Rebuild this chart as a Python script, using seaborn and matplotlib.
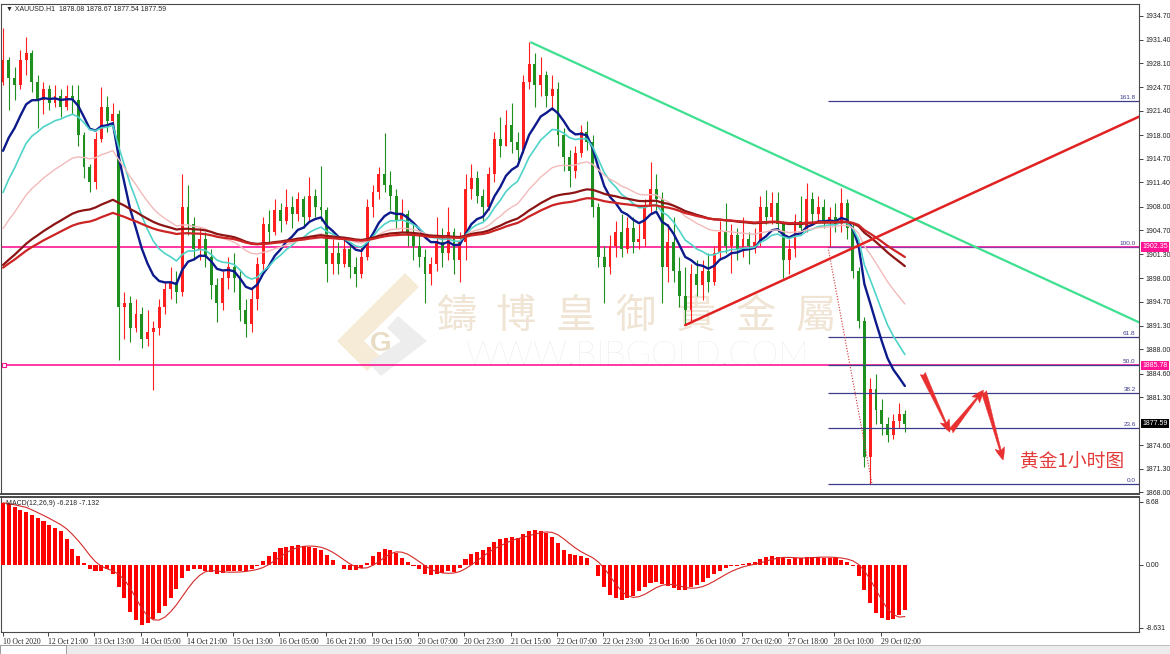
import numpy as np
import pandas as pd
import seaborn as sns
import matplotlib.pyplot as plt
from matplotlib.patches import Polygon, Rectangle
from matplotlib.transforms import blended_transform_factory


first_open = 1925.5
closes = [
    1928.5, 1926.0, 1925.0, 1928.5, 1929.5, 1925.5, 1923.0, 1924.5, 1922.5, 1923.5,
    1922.0, 1923.5, 1923.0, 1918.0, 1913.5, 1911.5, 1917.5, 1922.0, 1920.0, 1921.0,
    1894.0, 1894.5, 1891.0, 1893.0, 1889.5, 1890.5, 1891.0, 1894.0, 1896.5, 1897.5,
    1896.0, 1908.0, 1905.5, 1902.0, 1903.5, 1901.0, 1897.0, 1894.5, 1898.0, 1899.5,
    1898.0, 1893.5, 1891.5, 1895.0, 1900.0, 1905.5, 1904.5, 1907.5, 1906.0, 1908.0,
    1907.0, 1909.0, 1906.5, 1909.5, 1908.0, 1907.5, 1900.0, 1901.5, 1900.0, 1902.0,
    1899.5, 1898.5, 1901.0, 1908.0, 1910.0, 1912.5, 1911.0, 1909.5, 1906.0, 1907.0,
    1904.0, 1902.5, 1901.0, 1898.5, 1900.0, 1903.0, 1901.5, 1904.5, 1900.5, 1903.0,
    1910.5, 1912.0, 1909.5, 1908.0, 1912.5, 1917.5, 1916.5, 1919.5, 1917.0, 1916.0,
    1925.5, 1928.0, 1925.0, 1926.5, 1923.5, 1924.5, 1918.0, 1915.0, 1913.0, 1915.5,
    1918.5, 1917.0, 1908.0, 1901.0, 1899.5, 1902.5, 1904.5, 1902.0, 1905.0, 1903.0,
    1903.5, 1908.0, 1910.5, 1909.0, 1899.5, 1903.0, 1899.0, 1895.5, 1893.5, 1898.5,
    1897.0, 1899.0, 1897.5, 1901.5, 1904.5, 1902.5, 1904.0, 1902.0, 1903.5, 1902.5,
    1903.0, 1908.0, 1906.5, 1908.5, 1905.5, 1900.5, 1902.0, 1906.0, 1905.0, 1909.0,
    1907.0, 1908.0, 1906.0, 1906.5, 1905.5, 1908.5, 1905.0, 1899.0, 1892.0, 1873.0,
    1882.5, 1879.5, 1877.5, 1876.0, 1878.0, 1879.0, 1877.59,
]
highs = [
    1933.0, 1929.0, 1927.5, 1930.0, 1931.8, 1930.0, 1926.5, 1925.5, 1925.0, 1925.0,
    1924.5, 1925.0, 1925.0, 1925.0, 1918.5, 1914.0, 1918.5, 1924.8, 1923.5, 1922.5,
    1921.5, 1896.0, 1895.5, 1895.0, 1894.0, 1893.5, 1892.0, 1895.0, 1897.5, 1899.5,
    1899.0, 1912.5, 1911.0, 1906.5, 1905.0, 1904.5, 1902.0, 1898.0, 1899.0, 1901.0,
    1901.5, 1899.0, 1895.0, 1896.5, 1901.0, 1906.5, 1907.5, 1909.0, 1908.5, 1910.5,
    1909.5, 1910.0, 1909.5, 1912.2, 1910.5, 1913.7, 1908.0, 1903.5, 1903.0, 1903.5,
    1902.5, 1901.0, 1902.5, 1909.0, 1911.0, 1913.5, 1918.3, 1913.0, 1910.5, 1909.0,
    1907.5, 1905.5, 1904.0, 1902.0, 1901.0, 1906.5, 1905.0, 1908.0, 1905.0, 1904.5,
    1912.5, 1914.0, 1913.0, 1910.5, 1913.5, 1918.5, 1920.5, 1921.5, 1922.5, 1918.5,
    1926.5, 1931.0, 1929.5, 1929.0, 1927.0, 1926.5, 1925.5, 1919.0, 1916.0, 1916.5,
    1919.5, 1920.0, 1918.0, 1908.5, 1902.5, 1904.0, 1906.0, 1907.0, 1906.5, 1906.5,
    1905.5, 1909.0, 1914.3, 1912.5, 1910.0, 1905.5, 1906.5, 1901.0, 1899.5, 1900.0,
    1900.5, 1900.5, 1901.5, 1902.5, 1906.0, 1908.5, 1905.5, 1905.0, 1906.5, 1904.5,
    1905.0, 1909.5, 1910.3, 1910.0, 1910.0, 1906.0, 1903.5, 1907.0, 1909.5, 1911.3,
    1910.0, 1909.5, 1909.0, 1908.0, 1908.5, 1910.6, 1909.0, 1905.5, 1899.5, 1892.5,
    1884.0, 1884.5, 1881.0, 1878.5, 1879.0, 1880.5, 1879.5,
]
lows = [
    1925.0, 1921.5, 1923.0, 1924.5, 1926.5, 1924.0, 1919.0, 1921.0, 1921.5, 1922.0,
    1920.5, 1921.5, 1921.0, 1916.5, 1912.0, 1910.0, 1910.5, 1917.0, 1918.5, 1918.5,
    1886.5, 1889.5, 1889.0, 1890.5, 1888.2, 1888.5, 1882.3, 1890.0, 1893.0, 1895.0,
    1894.5, 1895.5, 1904.0, 1900.5, 1900.5, 1899.5, 1895.0, 1891.8, 1893.5, 1896.5,
    1896.0, 1892.0, 1889.7, 1890.5, 1893.5, 1899.0, 1903.0, 1904.0, 1904.5, 1905.5,
    1905.0, 1906.0, 1905.0, 1906.0, 1906.5, 1906.0, 1897.5, 1898.5, 1898.5, 1899.5,
    1898.0, 1896.7, 1898.0, 1900.5, 1906.5, 1909.0, 1910.0, 1907.5, 1905.0, 1904.5,
    1902.5, 1900.5, 1899.5, 1894.5, 1897.0, 1899.0, 1899.5, 1900.5, 1898.5, 1897.5,
    1900.5, 1909.0, 1908.5, 1906.0, 1907.5, 1911.5, 1915.0, 1916.5, 1915.5, 1914.5,
    1915.5, 1924.5, 1922.0, 1923.5, 1922.0, 1921.5, 1916.5, 1913.0, 1910.8, 1912.0,
    1915.0, 1916.0, 1906.5, 1899.5, 1894.5, 1898.5, 1901.0, 1901.0, 1901.5, 1901.5,
    1902.0, 1902.5, 1907.0, 1907.5, 1894.5, 1897.5, 1897.5, 1894.0, 1891.5, 1892.0,
    1895.5, 1894.9, 1896.0, 1897.0, 1900.5, 1901.5, 1898.7, 1900.5, 1901.0, 1900.0,
    1901.5, 1902.5, 1905.5, 1905.5, 1904.5, 1898.0, 1898.5, 1901.0, 1904.0, 1904.5,
    1905.5, 1906.0, 1905.0, 1902.35, 1904.5, 1904.5, 1903.5, 1898.0, 1891.0, 1871.5,
    1869.2, 1877.5, 1876.0, 1875.0, 1875.5, 1877.0, 1876.5,
]
macd_hist = [
    8.5, 8.3, 7.9, 7.5, 7.2, 6.8, 6.4, 6.0, 5.5, 5.0,
    4.6, 3.6, 2.2, 1.2, 0.2, -0.6, -0.9, -0.8, -0.6, -1.2,
    -3.0, -4.6, -6.5, -7.6, -8.2, -8.0, -7.4, -6.6, -5.6, -4.5,
    -3.3, -1.8, -0.9, -0.6, -0.6, -0.8, -1.0, -1.2, -1.1, -0.9,
    -0.8, -0.9, -0.8, -0.5, -0.1, 0.5, 1.2, 1.8, 2.3, 2.5,
    2.6, 2.7, 2.6, 2.5, 2.3, 2.0, 1.3, 0.6, 0.0, -0.5,
    -0.7, -0.7, -0.4, 0.3, 1.2, 1.8, 2.2, 2.1, 1.6, 1.0,
    0.4, -0.2, -0.6, -1.2, -1.4, -1.2, -1.1, -0.9, -1.0, -0.4,
    0.8, 1.5, 1.8, 2.0, 2.5, 3.2, 3.5, 3.7, 3.8, 3.7,
    4.2, 4.6, 4.8, 4.7, 4.3, 3.8, 3.0, 2.0, 1.5, 1.3,
    1.2, 0.9, 0.0, -1.5, -3.0, -4.1, -4.6, -4.8, -4.6, -4.2,
    -3.6, -3.0, -2.5, -2.3, -2.6, -2.9, -3.2, -3.4, -3.4, -3.1,
    -2.7, -2.3, -1.8, -1.3, -0.8, -0.4, -0.2, -0.1, 0.1, 0.2,
    0.4, 0.8, 1.1, 1.2, 1.1, 0.9, 0.8, 0.9, 1.0, 1.1,
    1.1, 1.1, 1.0, 1.0, 0.9, 0.7, 0.4, -0.2, -1.5, -3.5,
    -5.2, -6.6, -7.3, -7.6, -7.4, -6.9, -6.218,
]

# moving averages: span (in 2h bars) and the value they start at on the left edge
ma_spans = [10, 16, 34, 70, 90]
ma_seeds = [1913.0, 1907.5, 1903.5, 1899.0, 1898.8]
ma_colors = ["#0c1a8c", "#4fd3c9", "#f2baba", "#8c1414", "#cc2424"]
ma_widths = [1.7, 1.2, 1.0, 1.6, 1.6]

# 1878.00 sits under the last-price tag in the reference, so it is left out
price_ticks = [1934.70, 1931.40, 1928.10, 1924.70, 1921.40, 1918.00, 1914.70,
               1911.40, 1908.00, 1904.70, 1901.30, 1898.00, 1894.70, 1891.30,
               1888.00, 1884.60, 1881.30, 1874.60, 1871.30, 1868.00]
macd_ticks = [8.68, 0.0, -8.631]
macd_tick_labels = ["8.68", "0.00", "-8.631"]
time_labels = ["10 Oct 2020", "12 Oct 21:00", "13 Oct 13:00", "14 Oct 05:00",
               "14 Oct 21:00", "15 Oct 13:00", "16 Oct 05:00", "16 Oct 21:00",
               "19 Oct 15:00", "20 Oct 07:00", "20 Oct 23:00", "21 Oct 15:00",
               "22 Oct 07:00", "22 Oct 23:00", "23 Oct 16:00", "26 Oct 10:00",
               "27 Oct 02:00", "27 Oct 18:00", "28 Oct 10:00", "29 Oct 02:00"]
time_ticks = [0] + [7.8 + 8 * k for k in range(len(time_labels) - 1)]

level_lines = [1902.35, 1885.78]
last_price = 1877.59
fib_low, fib_high, fib_start = 1869.21, 1902.35, 142.7
fib_ratios = [0.0, 23.6, 38.2, 50.0, 61.8, 100.0, 161.8]
green_line_x, green_line_y = [91.35, 196.5], [1931.0, 1891.8]
red_line_x, red_line_y = [118.0, 196.5], [1891.4, 1920.6]
swing_x, swing_y = [142.7, 150.3], [1902.35, 1869.21]
forecast_x = [159.0, 163.8, 169.6, 173.0]
forecast_y = [1884.8, 1876.4, 1882.3, 1872.5]

X_MIN, X_MAX = -0.35, 196.5
UP, DOWN = "#ff1f1f", "#1f8f1f"
MAGENTA = "#ff1493"
FIB = "#3c3c8c"

# --- Figure ---
sns.set_theme(style="white")
plt.rcParams["font.family"] = ["Liberation Sans", "DejaVu Sans"]

W, H = 1170, 654
fig = plt.figure(figsize=(W / 100, H / 100), dpi=100, facecolor="white")
ax = fig.add_axes([1 / W, 1 - 494 / H, 1138 / W, 490 / H])
ax2 = fig.add_axes([1 / W, 1 - 632 / H, 1138 / W, 135 / H])


def px(x, y):
    return (x / W, 1 - y / H)


# watermark
wm_kw = dict(transform=fig.transFigure, zorder=1)
ax.add_artist(Polygon([px(405, 273), px(337, 341), px(367, 371), px(381, 357),
                       px(364, 341), px(419, 287)], closed=True,
                      fc="#f3e6cc", ec="none", alpha=0.8, **wm_kw))
ax.add_artist(Polygon([px(398, 316), px(427, 341), px(381, 376), px(368, 363),
                       px(401, 341), px(387, 328)], closed=True,
                      fc="#ececec", ec="none", alpha=0.9, **wm_kw))
ax.text(*px(381, 344), "G", fontsize=20, fontweight="bold", color="#e9dcc4",
        ha="center", va="center", **wm_kw)
for k, ch in enumerate("鑄博皇御貴金屬"):
    ax.text(*px(456 + 60 * k, 316), ch, fontsize=29, color="#f0e4d4",
            ha="center", va="center", family=["Noto Sans CJK TC"], **wm_kw)
ax.text(*px(638, 356), "WWW.BIBGOLD.COM", fontsize=24.5, color="#e2e2e2",
        ha="center", va="center", family=["Lato"], fontweight="light", **wm_kw)

# candles
opens = [first_open] + closes[:-1]
df = pd.DataFrame({"open": opens, "high": highs, "low": lows, "close": closes})
df["bar"] = np.arange(len(df))
colors = np.where(df["close"] >= df["open"], UP, DOWN)
ax.vlines(df["bar"], df["low"], df["high"], colors=colors, lw=0.8, zorder=3)
body = (df["close"] - df["open"]).abs().clip(lower=0.15)
ax.bar(df["bar"], body, bottom=df[["open", "close"]].min(axis=1), width=0.5,
       color=colors, linewidth=0, zorder=3)

# moving averages
for span, seed, color, lw in zip(ma_spans, ma_seeds, ma_colors, ma_widths):
    ma = pd.Series([seed] + closes).ewm(span=span, adjust=False).mean().iloc[1:]
    sns.lineplot(x=df["bar"], y=ma.to_numpy(), color=color, linewidth=lw, ax=ax, zorder=4)

# horizontal levels and tags
trans = blended_transform_factory(ax.transAxes, ax.transData)
tag_kw = dict(transform=trans, fontsize=5, va="center", ha="left", zorder=10, clip_on=False)
for lvl in level_lines:
    ax.axhline(lvl, color=MAGENTA, lw=1.2, zorder=2)
    ax.text(1.003, lvl, f"{lvl:.2f}", color="white",
            bbox=dict(boxstyle="square,pad=0.18", fc=MAGENTA, ec="none"), **tag_kw)
ax.plot([0.1], [level_lines[1]], marker="s", ms=3, mfc="white", mec=MAGENTA, mew=0.8, zorder=5)
ax.text(1.003, last_price, f"{last_price:.2f}", color="white",
        bbox=dict(boxstyle="square,pad=0.18", fc="black", ec="none"), **tag_kw)

# fibonacci retracement
for r in fib_ratios:
    lvl = fib_low + r / 100 * (fib_high - fib_low)
    col = "#8e3aa8" if r == 100.0 else FIB
    ax.hlines(lvl, fib_start, X_MAX, color=col, lw=0.9, zorder=3)
    ax.text(0.997, lvl + 0.15, f"{r:.1f}", transform=trans, ha="right", va="bottom",
            fontsize=4.6, color=FIB, zorder=6)
ax.plot(swing_x, swing_y, color="#d03030", lw=0.8, ls=(0, (1, 1.5)), zorder=5)

# trend lines
ax.plot(green_line_x, green_line_y, color="#3de08f", lw=1.6, zorder=5)
ax.plot(red_line_x, red_line_y, color="#e02222", lw=1.8, zorder=5)

# forecast arrows
for k in range(len(forecast_x) - 1):
    ax.annotate("", xy=(forecast_x[k + 1], forecast_y[k + 1]),
                xytext=(forecast_x[k], forecast_y[k]),
                arrowprops=dict(arrowstyle="fancy,head_length=0.9,head_width=0.7,tail_width=0.4",
                                fc="#e83030", ec="#e83030", lw=0.3, mutation_scale=10,
                                shrinkA=1, shrinkB=0), zorder=6)
ax.text(176, 1872.25, "黄金1小时图", fontsize=13.5, color="#e33a3a", va="center",
        ha="left", family=["Noto Sans CJK SC", "DejaVu Sans"], zorder=6)

ax.text(0.004, 0.988, "▼ XAUUSD.H1  1878.08 1878.67 1877.54 1877.59",
        transform=ax.transAxes, fontsize=5, va="center", ha="left",
        family=["Liberation Sans", "DejaVu Sans"], zorder=6)

# MACD panel
ax2.bar(df["bar"], macd_hist, width=0.7, color="#ff0000", linewidth=0, zorder=3)
signal = pd.Series(macd_hist).rolling(5, min_periods=1).mean()
sns.lineplot(x=df["bar"], y=signal.to_numpy(), color="#d42a2a", linewidth=0.8, ax=ax2, zorder=4)
ax2.text(0.004, 0.955, "MACD(12,26,9) -6.218 -7.132", transform=ax2.transAxes,
         fontsize=5, va="center", ha="left", zorder=6)

# axes styling
ax.set_xlim(X_MIN, X_MAX)
ax.set_ylim(1867.75, 1936.38)
ax2.set_xlim(X_MIN, X_MAX)
ax2.set_ylim(-9.2, 9.3)
for a in (ax, ax2):
    a.set_facecolor("white")
    a.yaxis.tick_right()
    a.set_xlabel("")
    a.set_ylabel("")
    for s in a.spines.values():
        s.set_color("#4a4a4a")
        s.set_linewidth(0.8)
    a.tick_params(axis="y", direction="out", length=3, width=0.6, pad=2,
                  labelsize=5, colors="#222222", right=True)
ax.spines["bottom"].set_linewidth(1.4)
ax2.spines["top"].set_linewidth(1.4)
ax.set_xticks([])
ax.set_yticks(price_ticks)
ax.set_yticklabels([f"{v:.2f}" for v in price_ticks])
ax2.set_yticks(macd_ticks)
ax2.set_yticklabels(macd_tick_labels)
ax2.set_xticks(time_ticks)
ax2.set_xticklabels(time_labels, ha="left", fontfamily="Liberation Serif")
ax2.tick_params(axis="x", direction="out", length=3, width=0.6, pad=1.5,
                labelsize=5.5, colors="#222222", bottom=True)

# bottom tab strip
fig.patches.append(Rectangle((0, 0), 1, 9 / H, transform=fig.transFigure,
                             fc="#ececec", ec="#b4b4b4", lw=0.6))
fig.patches.append(Rectangle((0, 0), 66 / W, 9 / H, transform=fig.transFigure,
                             fc="white", ec="#909090", lw=0.6))

fig.savefig("out.png", dpi=100, facecolor="white")
